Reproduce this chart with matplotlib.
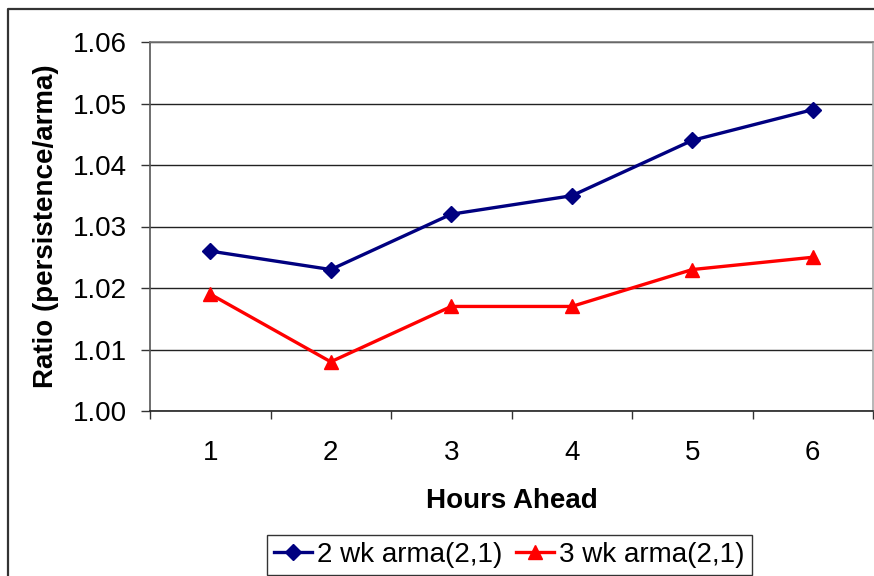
import matplotlib
matplotlib.use("Agg")
import matplotlib.pyplot as plt
from matplotlib.lines import Line2D

plt.rcParams['font.family'] = ['Liberation Sans', 'DejaVu Sans']

hours = [1, 2, 3, 4, 5, 6]
two_wk = [1.026, 1.023, 1.032, 1.035, 1.044, 1.049]
three_wk = [1.019, 1.008, 1.017, 1.017, 1.023, 1.025]
yticks = [1.00, 1.01, 1.02, 1.03, 1.04, 1.05, 1.06]

W, H = 874, 576
FS = 20
fig = plt.figure(figsize=(W / 100, H / 100), dpi=100)

# outer chart border
fig.add_artist(Line2D([8 / W, 8 / W, 1.0], [0.0, 1 - 9 / H, 1 - 9 / H],
                      transform=fig.transFigure, color='#333333', lw=1.6))

ax = fig.add_axes([150 / W, (H - 411) / H, 723 / W, 369 / H])
ax.plot(hours, two_wk, color='#000080', lw=2.4, marker='D', ms=8.5,
        label='2 wk arma(2,1)')
ax.plot(hours, three_wk, color='#FF0000', lw=2.4, marker='^', ms=10,
        label='3 wk arma(2,1)')

ax.set_xlim(0.5, 6.5)
ax.set_ylim(1.00, 1.06)
ax.set_yticks(yticks)
ax.set_yticklabels([f"{v:.2f}" for v in yticks])
ax.set_xticks(hours)
ax.set_xticks([0.5 + i for i in range(7)], minor=True)
ax.tick_params(axis='x', which='major', length=0, labelsize=FS, pad=21)
ax.tick_params(axis='x', which='minor', length=6, width=1, color='#333333')
ax.tick_params(axis='y', length=6.5, width=1, color='#333333', labelsize=FS, pad=10)
ax.yaxis.grid(True, color='#222222', lw=1)
ax.set_axisbelow(True)

ax.spines['left'].set_color('#555555')
ax.spines['bottom'].set_color('#222222')
ax.spines['top'].set_color('#777777')
ax.spines['right'].set_color('#AAAAAA')
for s in ax.spines.values():
    s.set_linewidth(1.2)

ax.set_xlabel('Hours Ahead', fontsize=FS, fontweight='bold', labelpad=16)
ax.set_ylabel('Ratio (persistence/arma)', fontsize=FS, fontweight='bold', labelpad=10)

leg = fig.legend(loc='upper left', bbox_to_anchor=(267 / W, 1 - 535 / H),
                 ncol=2, fontsize=FS, frameon=True, fancybox=False,
                 edgecolor='black', handlelength=1.37, handletextpad=0.18,
                 columnspacing=0.5, borderpad=0.25, borderaxespad=0)
leg.get_frame().set_linewidth(1.0)

fig.savefig('out.png', dpi=100)
